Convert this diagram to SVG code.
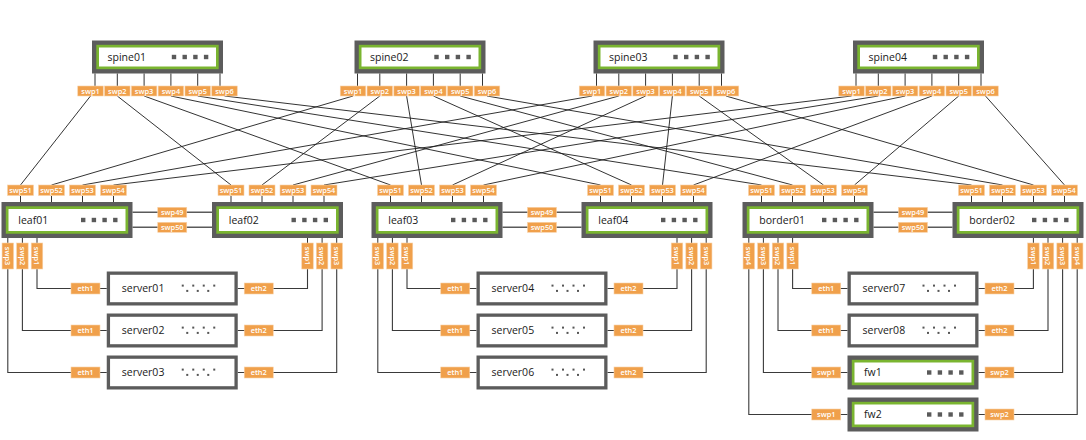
<svg xmlns="http://www.w3.org/2000/svg" width="1086" height="440" viewBox="0 0 1086 440">
  <style>
    .go{fill:#5c5c5c}
    .gg{fill:#7ab530}
    .gw{fill:#fff}
    .srv{fill:#fff;stroke:#5c5c5c;stroke-width:3.3}
    .nm{font-family:"Open Sans","Liberation Sans",sans-serif;font-size:10.5px;fill:#1a1a1a}
    .pl{fill:#f0a04b;stroke:#f8d2a8;stroke-width:0.6}
    .pt{font-family:"Open Sans","Liberation Sans",sans-serif;font-size:7.4px;font-weight:600;fill:#fff;text-anchor:middle}
    .sq{fill:#5a5a5a}
    .dt{fill:#555}
    .tk{stroke:#333;stroke-width:1}
    .fab{stroke:#1c1c1c;stroke-width:0.9;fill:none}
    .pair{stroke:#5a5a5a;stroke-width:1.5;fill:none}
    .host{stroke:#3a3a3a;stroke-width:1.1;fill:none}
  </style>
  <defs>
    <!-- four status squares on switch faces -->
    <g id="leds">
      <rect x="0" y="0" width="4.4" height="4.4"/>
      <rect x="10.7" y="0" width="4.4" height="4.4"/>
      <rect x="21.4" y="0" width="4.4" height="4.4"/>
      <rect x="32.1" y="0" width="4.4" height="4.4"/>
    </g>
    <!-- dotted pattern on server faces -->
    <g id="dots">
      <rect x="0" y="0" width="2" height="2"/>
      <rect x="10.5" y="0" width="2" height="2"/>
      <rect x="21" y="0" width="2" height="2"/>
      <rect x="31.5" y="0" width="2" height="2"/>
      <rect x="4.5" y="5.3" width="2" height="2"/>
      <rect x="15" y="5.3" width="2" height="2"/>
      <rect x="25.5" y="5.3" width="2" height="2"/>
    </g>
  </defs>

  <!-- ===== connectors ===== -->
  <g id="connectors">
    <!-- spine to leaf fabric -->
    <g class="fab">
      <line x1="90.5" y1="96" x2="20.5" y2="185"/>
      <line x1="117.3" y1="96" x2="231" y2="185"/>
      <line x1="144.1" y1="96" x2="390.5" y2="185"/>
      <line x1="170.9" y1="96" x2="600.5" y2="185"/>
      <line x1="197.7" y1="96" x2="761.5" y2="185"/>
      <line x1="224.5" y1="96" x2="971.5" y2="185"/>

      <line x1="353" y1="96" x2="51.5" y2="185"/>
      <line x1="379.8" y1="96" x2="262" y2="185"/>
      <line x1="406.6" y1="96" x2="421.5" y2="185"/>
      <line x1="433.4" y1="96" x2="631.5" y2="185"/>
      <line x1="460.2" y1="96" x2="792.5" y2="185"/>
      <line x1="487" y1="96" x2="1002.5" y2="185"/>

      <line x1="592" y1="96" x2="82.5" y2="185"/>
      <line x1="618.8" y1="96" x2="293" y2="185"/>
      <line x1="645.6" y1="96" x2="452.5" y2="185"/>
      <line x1="672.4" y1="96" x2="662.5" y2="185"/>
      <line x1="699.2" y1="96" x2="823.5" y2="185"/>
      <line x1="726" y1="96" x2="1033.5" y2="185"/>

      <line x1="851.5" y1="96" x2="113.5" y2="185"/>
      <line x1="878.3" y1="96" x2="324" y2="185"/>
      <line x1="905.1" y1="96" x2="483.5" y2="185"/>
      <line x1="931.9" y1="96" x2="693.5" y2="185"/>
      <line x1="958.7" y1="96" x2="854.5" y2="185"/>
      <line x1="985.5" y1="96" x2="1064.5" y2="185"/>
    </g>

    <!-- peer links -->
    <g class="pair">
      <line x1="132.5" y1="212.3" x2="212" y2="212.3"/>
      <line x1="132.5" y1="227.3" x2="212" y2="227.3"/>
      <line x1="502.5" y1="212.3" x2="581.5" y2="212.3"/>
      <line x1="502.5" y1="227.3" x2="581.5" y2="227.3"/>
      <line x1="873.5" y1="212.3" x2="952.5" y2="212.3"/>
      <line x1="873.5" y1="227.3" x2="952.5" y2="227.3"/>
    </g>
    <g>
      <rect class="pl" x="157.75" y="207.3" width="29" height="10"/>
      <text class="pt" x="172.25" y="215">swp49</text>
      <rect class="pl" x="157.75" y="222.3" width="29" height="10"/>
      <text class="pt" x="172.25" y="230">swp50</text>
      <rect class="pl" x="527.5" y="207.3" width="29" height="10"/>
      <text class="pt" x="542" y="215">swp49</text>
      <rect class="pl" x="527.5" y="222.3" width="29" height="10"/>
      <text class="pt" x="542" y="230">swp50</text>
      <rect class="pl" x="898.5" y="207.3" width="29" height="10"/>
      <text class="pt" x="913" y="215">swp49</text>
      <rect class="pl" x="898.5" y="222.3" width="29" height="10"/>
      <text class="pt" x="913" y="230">swp50</text>
    </g>

    <!-- host links -->
    <g class="host">
      <path d="M37 269V288.5H106.75"/>
      <path d="M22.4 269V330.5H106.75"/>
      <path d="M7.8 269V372.5H106.75"/>
      <path d="M237.75 288.5H307.5V269"/>
      <path d="M237.75 330.5H322.1V269"/>
      <path d="M237.75 372.5H336.7V269"/>

      <path d="M407 269V288.5H476.5"/>
      <path d="M392.4 269V330.5H476.5"/>
      <path d="M377.8 269V372.5H476.5"/>
      <path d="M607.5 288.5H677V269"/>
      <path d="M607.5 330.5H691.6V269"/>
      <path d="M607.5 372.5H706.2V269"/>

      <path d="M792.6 269V288.5H847.5"/>
      <path d="M778 269V330.5H847.5"/>
      <path d="M763.4 269V372.5H847.5"/>
      <path d="M748.8 269V414.5H847.5"/>
      <path d="M978.5 288.5H1033.4V269"/>
      <path d="M978.5 330.5H1048V269"/>
      <path d="M978.5 372.5H1062.6V269"/>
      <path d="M978.5 414.5H1077.2V269"/>
    </g>
  </g>

  <!-- ===== spine switches ===== -->
  <g id="spine01" transform="translate(92 40.5)">
    <rect class="go" width="131" height="33"/>
    <rect class="gg" x="4.3" y="4.3" width="122.4" height="24.4"/>
    <rect class="gw" x="7" y="7" width="117" height="19"/>
    <text class="nm" x="15.5" y="20.5">spine01</text>
    <use href="#leds" class="sq" x="79.8" y="14.3"/>
    <g class="tk"><line x1="3" y1="33" x2="3" y2="45.5"/><line x1="25.3" y1="33" x2="25.3" y2="45.5"/><line x1="52.1" y1="33" x2="52.1" y2="45.5"/><line x1="78.9" y1="33" x2="78.9" y2="45.5"/><line x1="105.7" y1="33" x2="105.7" y2="45.5"/><line x1="128" y1="33" x2="128" y2="45.5"/></g>
    <rect class="pl" x="-14.25" y="45.5" width="25.5" height="10"/><text class="pt" x="-1.5" y="53.2">swp1</text>
    <rect class="pl" x="12.55" y="45.5" width="25.5" height="10"/><text class="pt" x="25.3" y="53.2">swp2</text>
    <rect class="pl" x="39.35" y="45.5" width="25.5" height="10"/><text class="pt" x="52.1" y="53.2">swp3</text>
    <rect class="pl" x="66.15" y="45.5" width="25.5" height="10"/><text class="pt" x="78.9" y="53.2">swp4</text>
    <rect class="pl" x="92.95" y="45.5" width="25.5" height="10"/><text class="pt" x="105.7" y="53.2">swp5</text>
    <rect class="pl" x="119.75" y="45.5" width="25.5" height="10"/><text class="pt" x="132.5" y="53.2">swp6</text>
  </g>

  <g id="spine02" transform="translate(354.5 40.5)">
    <rect class="go" width="131" height="33"/>
    <rect class="gg" x="4.3" y="4.3" width="122.4" height="24.4"/>
    <rect class="gw" x="7" y="7" width="117" height="19"/>
    <text class="nm" x="15.5" y="20.5">spine02</text>
    <use href="#leds" class="sq" x="79.8" y="14.3"/>
    <g class="tk"><line x1="3" y1="33" x2="3" y2="45.5"/><line x1="25.3" y1="33" x2="25.3" y2="45.5"/><line x1="52.1" y1="33" x2="52.1" y2="45.5"/><line x1="78.9" y1="33" x2="78.9" y2="45.5"/><line x1="105.7" y1="33" x2="105.7" y2="45.5"/><line x1="128" y1="33" x2="128" y2="45.5"/></g>
    <rect class="pl" x="-14.25" y="45.5" width="25.5" height="10"/><text class="pt" x="-1.5" y="53.2">swp1</text>
    <rect class="pl" x="12.55" y="45.5" width="25.5" height="10"/><text class="pt" x="25.3" y="53.2">swp2</text>
    <rect class="pl" x="39.35" y="45.5" width="25.5" height="10"/><text class="pt" x="52.1" y="53.2">swp3</text>
    <rect class="pl" x="66.15" y="45.5" width="25.5" height="10"/><text class="pt" x="78.9" y="53.2">swp4</text>
    <rect class="pl" x="92.95" y="45.5" width="25.5" height="10"/><text class="pt" x="105.7" y="53.2">swp5</text>
    <rect class="pl" x="119.75" y="45.5" width="25.5" height="10"/><text class="pt" x="132.5" y="53.2">swp6</text>
  </g>

  <g id="spine03" transform="translate(593.5 40.5)">
    <rect class="go" width="131" height="33"/>
    <rect class="gg" x="4.3" y="4.3" width="122.4" height="24.4"/>
    <rect class="gw" x="7" y="7" width="117" height="19"/>
    <text class="nm" x="15.5" y="20.5">spine03</text>
    <use href="#leds" class="sq" x="79.8" y="14.3"/>
    <g class="tk"><line x1="3" y1="33" x2="3" y2="45.5"/><line x1="25.3" y1="33" x2="25.3" y2="45.5"/><line x1="52.1" y1="33" x2="52.1" y2="45.5"/><line x1="78.9" y1="33" x2="78.9" y2="45.5"/><line x1="105.7" y1="33" x2="105.7" y2="45.5"/><line x1="128" y1="33" x2="128" y2="45.5"/></g>
    <rect class="pl" x="-14.25" y="45.5" width="25.5" height="10"/><text class="pt" x="-1.5" y="53.2">swp1</text>
    <rect class="pl" x="12.55" y="45.5" width="25.5" height="10"/><text class="pt" x="25.3" y="53.2">swp2</text>
    <rect class="pl" x="39.35" y="45.5" width="25.5" height="10"/><text class="pt" x="52.1" y="53.2">swp3</text>
    <rect class="pl" x="66.15" y="45.5" width="25.5" height="10"/><text class="pt" x="78.9" y="53.2">swp4</text>
    <rect class="pl" x="92.95" y="45.5" width="25.5" height="10"/><text class="pt" x="105.7" y="53.2">swp5</text>
    <rect class="pl" x="119.75" y="45.5" width="25.5" height="10"/><text class="pt" x="132.5" y="53.2">swp6</text>
  </g>

  <g id="spine04" transform="translate(853 40.5)">
    <rect class="go" width="131" height="33"/>
    <rect class="gg" x="4.3" y="4.3" width="122.4" height="24.4"/>
    <rect class="gw" x="7" y="7" width="117" height="19"/>
    <text class="nm" x="15.5" y="20.5">spine04</text>
    <use href="#leds" class="sq" x="79.8" y="14.3"/>
    <g class="tk"><line x1="3" y1="33" x2="3" y2="45.5"/><line x1="25.3" y1="33" x2="25.3" y2="45.5"/><line x1="52.1" y1="33" x2="52.1" y2="45.5"/><line x1="78.9" y1="33" x2="78.9" y2="45.5"/><line x1="105.7" y1="33" x2="105.7" y2="45.5"/><line x1="128" y1="33" x2="128" y2="45.5"/></g>
    <rect class="pl" x="-14.25" y="45.5" width="25.5" height="10"/><text class="pt" x="-1.5" y="53.2">swp1</text>
    <rect class="pl" x="12.55" y="45.5" width="25.5" height="10"/><text class="pt" x="25.3" y="53.2">swp2</text>
    <rect class="pl" x="39.35" y="45.5" width="25.5" height="10"/><text class="pt" x="52.1" y="53.2">swp3</text>
    <rect class="pl" x="66.15" y="45.5" width="25.5" height="10"/><text class="pt" x="78.9" y="53.2">swp4</text>
    <rect class="pl" x="92.95" y="45.5" width="25.5" height="10"/><text class="pt" x="105.7" y="53.2">swp5</text>
    <rect class="pl" x="119.75" y="45.5" width="25.5" height="10"/><text class="pt" x="132.5" y="53.2">swp6</text>
  </g>

  <!-- ===== leaf / border switches ===== -->
  <g id="leaf01" transform="translate(1.5 202)">
    <rect class="go" width="131" height="36"/>
    <rect class="gg" x="4.3" y="4.3" width="122.4" height="27.4"/>
    <rect class="gw" x="7" y="7" width="117" height="22"/>
    <text class="nm" x="16.8" y="21.8">leaf01</text>
    <use href="#leds" class="sq" x="79.5" y="15.8"/>
    <g class="tk"><line x1="19" y1="-6" x2="19" y2="0"/><line x1="50" y1="-6" x2="50" y2="0"/><line x1="81" y1="-6" x2="81" y2="0"/><line x1="112" y1="-6" x2="112" y2="0"/>
      <line x1="6.3" y1="36" x2="6.3" y2="41"/><line x1="20.9" y1="36" x2="20.9" y2="41"/><line x1="35.5" y1="36" x2="35.5" y2="41"/></g>
    <rect class="pl" x="6" y="-17" width="26" height="10.5"/><text class="pt" x="19" y="-9.1">swp51</text>
    <rect class="pl" x="37" y="-17" width="26" height="10.5"/><text class="pt" x="50" y="-9.1">swp52</text>
    <rect class="pl" x="68" y="-17" width="26" height="10.5"/><text class="pt" x="81" y="-9.1">swp53</text>
    <rect class="pl" x="99" y="-17" width="26" height="10.5"/><text class="pt" x="112" y="-9.1">swp54</text>
    <rect class="pl" x="0.55" y="41" width="11.5" height="26"/><text class="pt" transform="translate(6.3 54) rotate(90)" y="2.6">swp3</text>
    <rect class="pl" x="15.15" y="41" width="11.5" height="26"/><text class="pt" transform="translate(20.9 54) rotate(90)" y="2.6">swp2</text>
    <rect class="pl" x="29.75" y="41" width="11.5" height="26"/><text class="pt" transform="translate(35.5 54) rotate(90)" y="2.6">swp1</text>
  </g>

  <g id="leaf02" transform="translate(212 202)">
    <rect class="go" width="131" height="36"/>
    <rect class="gg" x="4.3" y="4.3" width="122.4" height="27.4"/>
    <rect class="gw" x="7" y="7" width="117" height="22"/>
    <text class="nm" x="16.8" y="21.8">leaf02</text>
    <use href="#leds" class="sq" x="79.5" y="15.8"/>
    <g class="tk"><line x1="19" y1="-6" x2="19" y2="0"/><line x1="50" y1="-6" x2="50" y2="0"/><line x1="81" y1="-6" x2="81" y2="0"/><line x1="112" y1="-6" x2="112" y2="0"/>
      <line x1="95.5" y1="36" x2="95.5" y2="41"/><line x1="110.1" y1="36" x2="110.1" y2="41"/><line x1="124.7" y1="36" x2="124.7" y2="41"/></g>
    <rect class="pl" x="6" y="-17" width="26" height="10.5"/><text class="pt" x="19" y="-9.1">swp51</text>
    <rect class="pl" x="37" y="-17" width="26" height="10.5"/><text class="pt" x="50" y="-9.1">swp52</text>
    <rect class="pl" x="68" y="-17" width="26" height="10.5"/><text class="pt" x="81" y="-9.1">swp53</text>
    <rect class="pl" x="99" y="-17" width="26" height="10.5"/><text class="pt" x="112" y="-9.1">swp54</text>
    <rect class="pl" x="89.75" y="41" width="11.5" height="26"/><text class="pt" transform="translate(95.5 54) rotate(90)" y="2.6">swp1</text>
    <rect class="pl" x="104.35" y="41" width="11.5" height="26"/><text class="pt" transform="translate(110.1 54) rotate(90)" y="2.6">swp2</text>
    <rect class="pl" x="118.95" y="41" width="11.5" height="26"/><text class="pt" transform="translate(124.7 54) rotate(90)" y="2.6">swp3</text>
  </g>

  <g id="leaf03" transform="translate(371.5 202)">
    <rect class="go" width="131" height="36"/>
    <rect class="gg" x="4.3" y="4.3" width="122.4" height="27.4"/>
    <rect class="gw" x="7" y="7" width="117" height="22"/>
    <text class="nm" x="16.8" y="21.8">leaf03</text>
    <use href="#leds" class="sq" x="79.5" y="15.8"/>
    <g class="tk"><line x1="19" y1="-6" x2="19" y2="0"/><line x1="50" y1="-6" x2="50" y2="0"/><line x1="81" y1="-6" x2="81" y2="0"/><line x1="112" y1="-6" x2="112" y2="0"/>
      <line x1="6.3" y1="36" x2="6.3" y2="41"/><line x1="20.9" y1="36" x2="20.9" y2="41"/><line x1="35.5" y1="36" x2="35.5" y2="41"/></g>
    <rect class="pl" x="6" y="-17" width="26" height="10.5"/><text class="pt" x="19" y="-9.1">swp51</text>
    <rect class="pl" x="37" y="-17" width="26" height="10.5"/><text class="pt" x="50" y="-9.1">swp52</text>
    <rect class="pl" x="68" y="-17" width="26" height="10.5"/><text class="pt" x="81" y="-9.1">swp53</text>
    <rect class="pl" x="99" y="-17" width="26" height="10.5"/><text class="pt" x="112" y="-9.1">swp54</text>
    <rect class="pl" x="0.55" y="41" width="11.5" height="26"/><text class="pt" transform="translate(6.3 54) rotate(90)" y="2.6">swp3</text>
    <rect class="pl" x="15.15" y="41" width="11.5" height="26"/><text class="pt" transform="translate(20.9 54) rotate(90)" y="2.6">swp2</text>
    <rect class="pl" x="29.75" y="41" width="11.5" height="26"/><text class="pt" transform="translate(35.5 54) rotate(90)" y="2.6">swp1</text>
  </g>

  <g id="leaf04" transform="translate(581.5 202)">
    <rect class="go" width="131" height="36"/>
    <rect class="gg" x="4.3" y="4.3" width="122.4" height="27.4"/>
    <rect class="gw" x="7" y="7" width="117" height="22"/>
    <text class="nm" x="16.8" y="21.8">leaf04</text>
    <use href="#leds" class="sq" x="79.5" y="15.8"/>
    <g class="tk"><line x1="19" y1="-6" x2="19" y2="0"/><line x1="50" y1="-6" x2="50" y2="0"/><line x1="81" y1="-6" x2="81" y2="0"/><line x1="112" y1="-6" x2="112" y2="0"/>
      <line x1="95.5" y1="36" x2="95.5" y2="41"/><line x1="110.1" y1="36" x2="110.1" y2="41"/><line x1="124.7" y1="36" x2="124.7" y2="41"/></g>
    <rect class="pl" x="6" y="-17" width="26" height="10.5"/><text class="pt" x="19" y="-9.1">swp51</text>
    <rect class="pl" x="37" y="-17" width="26" height="10.5"/><text class="pt" x="50" y="-9.1">swp52</text>
    <rect class="pl" x="68" y="-17" width="26" height="10.5"/><text class="pt" x="81" y="-9.1">swp53</text>
    <rect class="pl" x="99" y="-17" width="26" height="10.5"/><text class="pt" x="112" y="-9.1">swp54</text>
    <rect class="pl" x="89.75" y="41" width="11.5" height="26"/><text class="pt" transform="translate(95.5 54) rotate(90)" y="2.6">swp1</text>
    <rect class="pl" x="104.35" y="41" width="11.5" height="26"/><text class="pt" transform="translate(110.1 54) rotate(90)" y="2.6">swp2</text>
    <rect class="pl" x="118.95" y="41" width="11.5" height="26"/><text class="pt" transform="translate(124.7 54) rotate(90)" y="2.6">swp3</text>
  </g>

  <g id="border01" transform="translate(742.5 202)">
    <rect class="go" width="131" height="36"/>
    <rect class="gg" x="4.3" y="4.3" width="122.4" height="27.4"/>
    <rect class="gw" x="7" y="7" width="117" height="22"/>
    <text class="nm" x="16.8" y="21.8">border01</text>
    <use href="#leds" class="sq" x="79.5" y="15.8"/>
    <g class="tk"><line x1="19" y1="-6" x2="19" y2="0"/><line x1="50" y1="-6" x2="50" y2="0"/><line x1="81" y1="-6" x2="81" y2="0"/><line x1="112" y1="-6" x2="112" y2="0"/>
      <line x1="6.3" y1="36" x2="6.3" y2="41"/><line x1="20.9" y1="36" x2="20.9" y2="41"/><line x1="35.5" y1="36" x2="35.5" y2="41"/><line x1="50.1" y1="36" x2="50.1" y2="41"/></g>
    <rect class="pl" x="6" y="-17" width="26" height="10.5"/><text class="pt" x="19" y="-9.1">swp51</text>
    <rect class="pl" x="37" y="-17" width="26" height="10.5"/><text class="pt" x="50" y="-9.1">swp52</text>
    <rect class="pl" x="68" y="-17" width="26" height="10.5"/><text class="pt" x="81" y="-9.1">swp53</text>
    <rect class="pl" x="99" y="-17" width="26" height="10.5"/><text class="pt" x="112" y="-9.1">swp54</text>
    <rect class="pl" x="0.55" y="41" width="11.5" height="26"/><text class="pt" transform="translate(6.3 54) rotate(90)" y="2.6">swp4</text>
    <rect class="pl" x="15.15" y="41" width="11.5" height="26"/><text class="pt" transform="translate(20.9 54) rotate(90)" y="2.6">swp3</text>
    <rect class="pl" x="29.75" y="41" width="11.5" height="26"/><text class="pt" transform="translate(35.5 54) rotate(90)" y="2.6">swp2</text>
    <rect class="pl" x="44.35" y="41" width="11.5" height="26"/><text class="pt" transform="translate(50.1 54) rotate(90)" y="2.6">swp1</text>
  </g>

  <g id="border02" transform="translate(952.5 202)">
    <rect class="go" width="131" height="36"/>
    <rect class="gg" x="4.3" y="4.3" width="122.4" height="27.4"/>
    <rect class="gw" x="7" y="7" width="117" height="22"/>
    <text class="nm" x="16.8" y="21.8">border02</text>
    <use href="#leds" class="sq" x="79.5" y="15.8"/>
    <g class="tk"><line x1="19" y1="-6" x2="19" y2="0"/><line x1="50" y1="-6" x2="50" y2="0"/><line x1="81" y1="-6" x2="81" y2="0"/><line x1="112" y1="-6" x2="112" y2="0"/>
      <line x1="80.9" y1="36" x2="80.9" y2="41"/><line x1="95.5" y1="36" x2="95.5" y2="41"/><line x1="110.1" y1="36" x2="110.1" y2="41"/><line x1="124.7" y1="36" x2="124.7" y2="41"/></g>
    <rect class="pl" x="6" y="-17" width="26" height="10.5"/><text class="pt" x="19" y="-9.1">swp51</text>
    <rect class="pl" x="37" y="-17" width="26" height="10.5"/><text class="pt" x="50" y="-9.1">swp52</text>
    <rect class="pl" x="68" y="-17" width="26" height="10.5"/><text class="pt" x="81" y="-9.1">swp53</text>
    <rect class="pl" x="99" y="-17" width="26" height="10.5"/><text class="pt" x="112" y="-9.1">swp54</text>
    <rect class="pl" x="75.15" y="41" width="11.5" height="26"/><text class="pt" transform="translate(80.9 54) rotate(90)" y="2.6">swp1</text>
    <rect class="pl" x="89.75" y="41" width="11.5" height="26"/><text class="pt" transform="translate(95.5 54) rotate(90)" y="2.6">swp2</text>
    <rect class="pl" x="104.35" y="41" width="11.5" height="26"/><text class="pt" transform="translate(110.1 54) rotate(90)" y="2.6">swp3</text>
    <rect class="pl" x="118.95" y="41" width="11.5" height="26"/><text class="pt" transform="translate(124.7 54) rotate(90)" y="2.6">swp4</text>
  </g>

  <!-- ===== servers ===== -->
  <g id="server01" transform="translate(106.75 271.5)">
    <rect class="srv" x="1.65" y="1.65" width="127.7" height="30.7"/>
    <text class="nm" x="15" y="20.8">server01</text>
    <use href="#dots" class="dt" x="75" y="13.1"/>
    <rect class="pl" x="-35.75" y="11.5" width="29" height="11"/><text class="pt" x="-21.25" y="19.6">eth1</text>
    <rect class="pl" x="137.5" y="11.5" width="29" height="11"/><text class="pt" x="152" y="19.6">eth2</text>
  </g>
  <g id="server02" transform="translate(106.75 313.5)">
    <rect class="srv" x="1.65" y="1.65" width="127.7" height="30.7"/>
    <text class="nm" x="15" y="20.8">server02</text>
    <use href="#dots" class="dt" x="75" y="13.1"/>
    <rect class="pl" x="-35.75" y="11.5" width="29" height="11"/><text class="pt" x="-21.25" y="19.6">eth1</text>
    <rect class="pl" x="137.5" y="11.5" width="29" height="11"/><text class="pt" x="152" y="19.6">eth2</text>
  </g>
  <g id="server03" transform="translate(106.75 355.5)">
    <rect class="srv" x="1.65" y="1.65" width="127.7" height="30.7"/>
    <text class="nm" x="15" y="20.8">server03</text>
    <use href="#dots" class="dt" x="75" y="13.1"/>
    <rect class="pl" x="-35.75" y="11.5" width="29" height="11"/><text class="pt" x="-21.25" y="19.6">eth1</text>
    <rect class="pl" x="137.5" y="11.5" width="29" height="11"/><text class="pt" x="152" y="19.6">eth2</text>
  </g>
  <g id="server04" transform="translate(476.5 271.5)">
    <rect class="srv" x="1.65" y="1.65" width="127.7" height="30.7"/>
    <text class="nm" x="15" y="20.8">server04</text>
    <use href="#dots" class="dt" x="75" y="13.1"/>
    <rect class="pl" x="-35.75" y="11.5" width="29" height="11"/><text class="pt" x="-21.25" y="19.6">eth1</text>
    <rect class="pl" x="137.5" y="11.5" width="29" height="11"/><text class="pt" x="152" y="19.6">eth2</text>
  </g>
  <g id="server05" transform="translate(476.5 313.5)">
    <rect class="srv" x="1.65" y="1.65" width="127.7" height="30.7"/>
    <text class="nm" x="15" y="20.8">server05</text>
    <use href="#dots" class="dt" x="75" y="13.1"/>
    <rect class="pl" x="-35.75" y="11.5" width="29" height="11"/><text class="pt" x="-21.25" y="19.6">eth1</text>
    <rect class="pl" x="137.5" y="11.5" width="29" height="11"/><text class="pt" x="152" y="19.6">eth2</text>
  </g>
  <g id="server06" transform="translate(476.5 355.5)">
    <rect class="srv" x="1.65" y="1.65" width="127.7" height="30.7"/>
    <text class="nm" x="15" y="20.8">server06</text>
    <use href="#dots" class="dt" x="75" y="13.1"/>
    <rect class="pl" x="-35.75" y="11.5" width="29" height="11"/><text class="pt" x="-21.25" y="19.6">eth1</text>
    <rect class="pl" x="137.5" y="11.5" width="29" height="11"/><text class="pt" x="152" y="19.6">eth2</text>
  </g>
  <g id="server07" transform="translate(847.5 271.5)">
    <rect class="srv" x="1.65" y="1.65" width="127.7" height="30.7"/>
    <text class="nm" x="15" y="20.8">server07</text>
    <use href="#dots" class="dt" x="75" y="13.1"/>
    <rect class="pl" x="-35.75" y="11.5" width="29" height="11"/><text class="pt" x="-21.25" y="19.6">eth1</text>
    <rect class="pl" x="137.5" y="11.5" width="29" height="11"/><text class="pt" x="152" y="19.6">eth2</text>
  </g>
  <g id="server08" transform="translate(847.5 313.5)">
    <rect class="srv" x="1.65" y="1.65" width="127.7" height="30.7"/>
    <text class="nm" x="15" y="20.8">server08</text>
    <use href="#dots" class="dt" x="75" y="13.1"/>
    <rect class="pl" x="-35.75" y="11.5" width="29" height="11"/><text class="pt" x="-21.25" y="19.6">eth1</text>
    <rect class="pl" x="137.5" y="11.5" width="29" height="11"/><text class="pt" x="152" y="19.6">eth2</text>
  </g>

  <!-- ===== firewalls ===== -->
  <g id="fw1" transform="translate(847.5 355.5)">
    <rect class="go" width="131" height="34"/>
    <rect class="gg" x="4.3" y="4.3" width="122.4" height="25.4"/>
    <rect class="gw" x="7" y="7" width="117" height="20"/>
    <text class="nm" x="16.5" y="20.8">fw1</text>
    <use href="#leds" class="sq" x="79.5" y="14.8"/>
    <rect class="pl" x="-35.75" y="11.5" width="29" height="11"/><text class="pt" x="-21.25" y="19.6">swp1</text>
    <rect class="pl" x="137.5" y="11.5" width="29" height="11"/><text class="pt" x="152" y="19.6">swp2</text>
  </g>
  <g id="fw2" transform="translate(847.5 397.5)">
    <rect class="go" width="131" height="34"/>
    <rect class="gg" x="4.3" y="4.3" width="122.4" height="25.4"/>
    <rect class="gw" x="7" y="7" width="117" height="20"/>
    <text class="nm" x="16.5" y="20.8">fw2</text>
    <use href="#leds" class="sq" x="79.5" y="14.8"/>
    <rect class="pl" x="-35.75" y="11.5" width="29" height="11"/><text class="pt" x="-21.25" y="19.6">swp1</text>
    <rect class="pl" x="137.5" y="11.5" width="29" height="11"/><text class="pt" x="152" y="19.6">swp2</text>
  </g>
</svg>
